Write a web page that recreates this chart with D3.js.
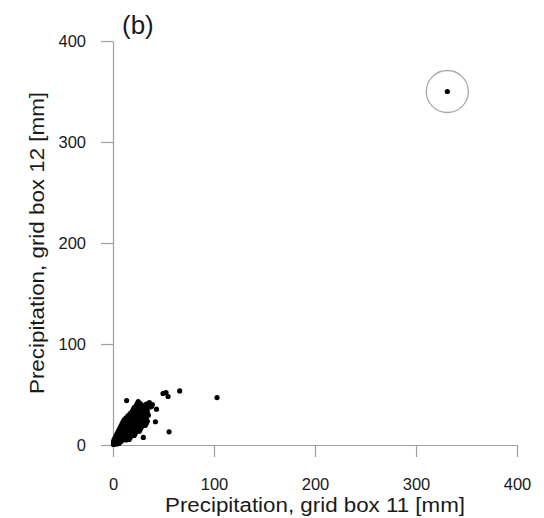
<!DOCTYPE html>
<html lang="en">
<head>
<meta charset="utf-8">
<title>Precipitation scatter, grid box 11 vs 12</title>
<script src="https://cdn.jsdelivr.net/npm/d3@7"></script>
<style>
  body { margin: 0; background: #fff; }
  text { font-family: "Liberation Sans", Arial, sans-serif; fill: #1a1a1a; }
</style>
</head>
<body>
<svg id="chart"></svg>
<script>
const width = 544, height = 518;

const panelLabel = "(b)";
const xTitle = "Precipitation, grid box 11 [mm]";
const yTitle = "Precipitation, grid box 12 [mm]";
const xTicks = [0, 100, 200, 300, 400];
const yTicks = [0, 100, 200, 300, 400];

// the one extreme day, circled in the figure  [box 11, box 12]
const circled = [331, 350];

// scattered days away from the main cloud
const scattered = [
  [13.5, 44], [66, 53.5], [103, 47], [49.5, 51], [54.5, 48], [52.5, 52],
  [43, 35.5], [42, 23], [55.5, 13], [30, 7.5], [39, 40], [36, 42]
];

const cloud = [
  [0.5, 0.5], [2, 1], [4, 1], [6, 1.5],
  [0.5, 3], [2, 3], [4, 3], [6, 3], [8, 3.5],
  [1, 5], [3, 5], [5, 5], [7, 5], [9, 5], [11, 5.5], [13, 5], [16, 5.5],
  [2, 7], [4, 7], [6, 7], [8, 7], [10, 7], [12, 7], [14, 7], [17, 7.5],
  [3, 9], [5, 9], [7, 9], [9, 9], [11, 9], [13, 9], [15, 9], [18, 9], [21, 9.5],
  [4, 11], [6, 11], [8, 11], [10, 11], [12, 11], [14, 11], [16, 11], [19, 11], [22, 11.5],
  [5, 13], [7, 13], [9, 13], [11, 13], [13, 13], [15, 13], [17, 13], [20, 13], [23, 13], [26, 13.5],
  [6, 15], [8, 15], [10, 15], [12, 15], [14, 15], [16, 15], [18, 15], [21, 15], [24, 15], [27, 15.5],
  [7, 17], [9, 17], [11, 17], [13, 17], [15, 17], [17, 17], [19, 17], [22, 17], [25, 17], [28, 17.5],
  [8, 19], [10, 19], [12, 19], [14, 19], [16, 19], [18, 19], [20, 19], [23, 19], [26, 19], [29, 19], [32, 19.5],
  [9, 21], [11, 21], [13, 21], [15, 21], [17, 21], [19, 21], [21, 21], [24, 21], [27, 21], [30, 21], [33, 21.5],
  [10, 23], [12, 23], [14, 23], [16, 23], [18, 23], [20, 23], [22, 23], [25, 23], [28, 23], [31, 23], [34, 23.5],
  [11, 25], [13, 25], [15, 25], [17, 25], [19, 25], [21, 25], [23, 25], [26, 25], [29, 25], [32, 25],
  [13, 27], [15, 27], [17, 27], [19, 27], [21, 27], [23, 27], [25, 27], [27, 27], [30, 27], [33, 27],
  [15, 29], [17, 29], [19, 29], [21, 29], [23, 29], [25, 29], [27, 29], [29, 29], [31, 29], [35, 29.5],
  [17, 31], [19, 31], [21, 31], [23, 31], [25, 31], [27, 31], [29, 31], [31, 31], [33, 31],
  [19, 33], [21, 33], [23, 33], [25, 33], [27, 33], [29, 33], [31, 33], [34, 33],
  [20, 35], [22, 35], [24, 35], [27, 35], [30, 35], [33, 35],
  [21, 37], [24, 37], [27, 37], [31, 37], [36, 37.5],
  [23, 39], [26, 39], [30, 39], [35, 39], [38, 38],
  [24, 41], [27, 41], [33, 40.5],
  [25, 43]
];

const svg = d3.select("#chart")
  .attr("width", width)
  .attr("height", height);

const x = d3.scaleLinear().domain([0, 400]).range([113, 517]);
const y = d3.scaleLinear().domain([0, 400]).range([445, 41]);

// axes, R style: grey line, outward ticks
const gx = svg.append("g")
  .attr("transform", `translate(0,${y(0)})`)
  .call(d3.axisBottom(x).tickValues(xTicks).tickSize(12).tickSizeOuter(0).tickPadding(21));

const gy = svg.append("g")
  .attr("transform", `translate(${x(0)},0)`)
  .call(d3.axisLeft(y).tickValues(yTicks).tickSize(12).tickSizeOuter(0).tickPadding(15));

[gx, gy].forEach(g => {
  g.select(".domain").attr("stroke", "#a0a0a0").attr("stroke-width", 1.2);
  g.selectAll(".tick line").attr("stroke", "#a0a0a0").attr("stroke-width", 1.2);
  g.selectAll(".tick text")
    .attr("font-size", 16.5)
    .attr("font-family", "Liberation Sans, Arial, sans-serif")
    .attr("fill", "#1a1a1a");
});

// titles
svg.append("text")
  .attr("x", (x(0) + x(400)) / 2)
  .attr("y", 512)
  .attr("text-anchor", "middle")
  .attr("font-size", 20)
  .attr("textLength", 300)
  .attr("lengthAdjust", "spacingAndGlyphs")
  .text(xTitle);

svg.append("text")
  .attr("transform", `translate(44,${(y(0) + y(400)) / 2}) rotate(-90)`)
  .attr("text-anchor", "middle")
  .attr("font-size", 20)
  .attr("textLength", 302)
  .attr("lengthAdjust", "spacingAndGlyphs")
  .text(yTitle);

svg.append("text")
  .attr("x", 122)
  .attr("y", 34)
  .attr("font-size", 26)
  .text(panelLabel);

// points
const all = cloud.concat(scattered, [circled]);
svg.append("g")
  .selectAll("circle")
  .data(all)
  .join("circle")
  .attr("cx", d => x(d[0]))
  .attr("cy", d => y(d[1]))
  .attr("r", 2.6)
  .attr("fill", "#000");

// ring around the extreme day
svg.append("circle")
  .attr("cx", x(circled[0]))
  .attr("cy", y(circled[1]))
  .attr("r", 21)
  .attr("fill", "none")
  .attr("stroke", "#a8a8a8")
  .attr("stroke-width", 1.3);
</script>
</body>
</html>
